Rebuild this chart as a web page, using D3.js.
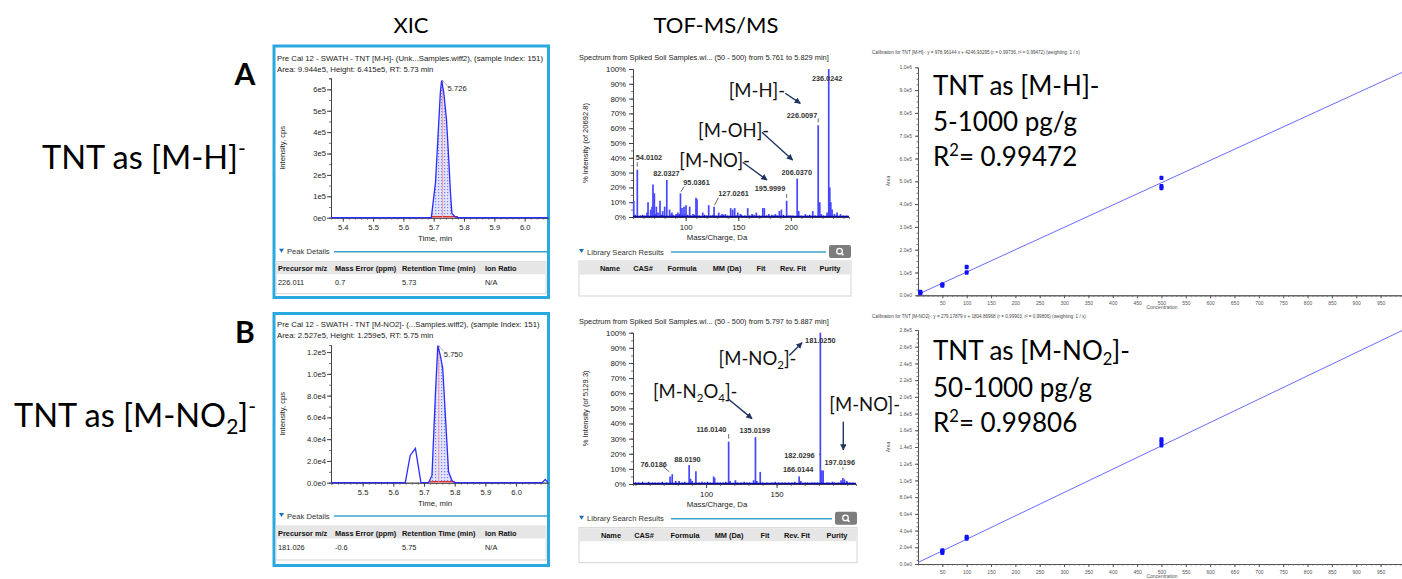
<!DOCTYPE html>
<html><head><meta charset="utf-8">
<script src="https://cdn.jsdelivr.net/npm/d3@7"></script>
<style>body{margin:0;background:#fff;} svg{display:block}</style>
</head><body><svg id="c" width="1402" height="579"></svg>
<script>
// ================= DATA =================
const headerTexts = ['XIC', 'TOF-MS/MS'];
const panelLetters = ['A', 'B'];

// ---- XIC A: TNT [M-H]- ----
const xicA_time = [5.361, 5.692, 5.706, 5.722, 5.726, 5.733, 5.742, 5.750, 5.755, 5.760, 5.770, 5.780, 6.077];
const xicA_int  = [0, 0, 1.68e5, 5.9e5, 6.415e5, 5.85e5, 4.6e5, 2.6e5, 1.2e5, 0.2e5, 0.05e5, 0, 0];
const xicA_yTicks  = [0, 1e5, 2e5, 3e5, 4e5, 5e5, 6e5];
const xicA_yLabels = ['0e0', '1e5', '2e5', '3e5', '4e5', '5e5', '6e5'];
const xicA_xTicks  = [5.4, 5.5, 5.6, 5.7, 5.8, 5.9, 6.0];
const xicA_xLabels = ['5.4', '5.5', '5.6', '5.7', '5.8', '5.9', '6.0'];
const xicA_details = ['226.011', '0.7', '5.73', 'N/A'];

// ---- XIC B: TNT [M-NO2]- ----
const xicB_time = [5.397, 5.639, 5.655, 5.672, 5.690, 5.715, 5.726, 5.737, 5.745, 5.753, 5.761, 5.769, 5.780, 5.791, 5.800, 6.085, 6.095, 6.104];
const xicB_int  = [0, 0, 2.5e4, 3.15e4, 0, 0, 6.7e3, 8.0e4, 1.259e5, 1.17e5, 1.05e5, 6.5e4, 1.0e4, 2e3, 0, 0, 3e3, 0];
const xicB_yTicks  = [0, 2e4, 4e4, 6e4, 8e4, 1e5, 1.2e5];
const xicB_yLabels = ['0.0e0', '2.0e4', '4.0e4', '6.0e4', '8.0e4', '1.0e5', '1.2e5'];
const xicB_xTicks  = [5.5, 5.6, 5.7, 5.8, 5.9, 6.0];
const xicB_xLabels = ['5.5', '5.6', '5.7', '5.8', '5.9', '6.0'];
const xicB_details = ['181.026', '-0.6', '5.75', 'N/A'];

const detailHeaders = ['Precursor m/z', 'Mass Error (ppm)', 'Retention Time (min)', 'Ion Ratio'];
const libraryHeaders = ['Name', 'CAS#', 'Formula', 'MM (Da)', 'Fit', 'Rev. Fit', 'Purity'];

// ---- TOF-MS/MS A ----
const specA_mz  = [50.6, 54.0102, 63.2, 64.2, 66.7, 68.0, 68.9, 70.2, 72.1, 73.7, 75.6, 78.1, 80.0, 82.0327, 84.7, 86.9, 91.0, 92.6, 95.0361, 96.5, 98.4, 100.3, 103.8, 107.0, 109.8, 110.8, 116.2, 121.9, 127.0261, 131.4, 134.6, 137.8, 142.8, 144.7, 146.6, 149.5, 152.0, 159.0, 163.1, 167.2, 173.3, 174.8, 179.0, 185.3, 189.1, 191.0, 195.9999, 206.0370, 207.5, 213.8, 220.8, 226.0097, 227.5, 229.0, 234.4, 236.0242, 237.03, 238.0, 239.2, 241.4, 244.0, 247.2];
const specA_pct = [11, 32, 3, 10, 5, 7, 22, 16, 7, 3, 11, 4, 7, 25, 5, 3, 2, 3, 16, 6, 7, 8, 7, 2, 13, 12, 3, 8, 7, 3, 2, 2, 6, 5, 6, 3, 2, 6, 2, 3, 6, 6, 2, 2, 4, 5, 11, 26, 4, 2, 4, 62, 10, 2, 3, 100, 20, 10, 5, 2, 3, 2];
const specA_noiseMz  = [52, 57, 59, 61, 71, 77, 79, 85, 88, 90, 94, 97, 99, 102, 105, 108, 113, 118, 120, 124, 126, 129, 133, 136, 140, 148, 153, 156, 161, 165, 170, 177, 182, 184, 187, 193, 198, 200, 202, 210, 216, 218, 223, 231, 243, 250, 253];
const specA_noisePct = [1.5, 1, 1.5, 1, 2, 1.5, 1, 2, 1.5, 1, 2, 1.5, 2, 1.5, 1, 1.5, 1, 1.5, 1, 1, 1.5, 1, 1, 1.5, 1, 1, 1.5, 1, 1, 1.5, 1, 1, 1.5, 1, 1, 1.5, 1, 1, 1, 1, 1, 1.5, 1, 1, 1, 1, 1];
const specA_labels   = ['54.0102', '82.0327', '95.0361', '127.0261', '195.9999', '206.0370', '226.0097', '236.0242'];
const specA_labelMz  = [65.1, 81.7, 110.3, 145.5, 180.2, 205.6, 210.6, 234.5];
const specA_labelPct = [40.5, 29.7, 23.6, 16.2, 19.6, 30.4, 68.9, 94.1];
const specA_xTicks = [100, 150, 200];
const specA_ions      = ['[M-H]-', '[M-OH]-', '[M-NO]-'];
const specA_ionMz     = [140.9, 111.7, 93.9];
const specA_ionPct    = [81.3, 54.3, 34.0];
const specA_arrowFrom = [[194.7, 83.6], [172.5, 57.2], [154.2, 37.0]];
const specA_arrowTo   = [[209.0, 76.8], [201.7, 38.5], [177.3, 25.0]];

// ---- TOF-MS/MS B ----
const specB_mz  = [52.2, 59.3, 66.4, 74.5, 76.0186, 78.5, 80.9, 88.0190, 89.0, 90.1, 92.8, 97.0, 105.4, 106.1, 110.0, 116.0140, 117.0, 120.8, 129.0, 133.7, 135.0199, 136.0, 138.4, 146.7, 151.4, 158.5, 166.0144, 167.2, 170.3, 175.0, 181.0250, 182.0296, 183.0, 185.6, 189.6, 193.9, 195.7, 197.0196, 198.1, 199.7, 202.0];
const specB_pct = [1, 1.5, 1, 5, 6.5, 2, 2, 12.5, 3.5, 2, 8.5, 1.5, 5, 4, 1, 28, 2, 2.5, 1, 2.5, 31, 2, 8, 1, 1, 1, 5, 2, 1, 1, 100, 9, 9, 1, 1.5, 1, 2.5, 4, 3, 2, 1];
const specB_noiseMz  = [50, 55, 62, 64, 69, 72, 83, 85, 95, 99, 101, 103, 108, 112, 114, 122, 125, 127, 131, 140, 143, 149, 154, 156, 161, 163, 172, 177, 179, 187, 191, 200, 204];
const specB_noisePct = [1, 1.5, 1, 1, 1.5, 1, 1, 1.5, 1, 1, 1.5, 1, 1, 1, 1.5, 1, 1, 1.5, 1, 1, 1, 1.5, 1, 1, 1, 1.5, 1, 1, 1, 1, 1, 1.5, 1];
const specB_labels   = ['181.0250', '116.0140', '135.0199', '88.0190', '76.0186', '182.0296', '166.0144', '197.0196'];
const specB_labelMz  = [181.0, 103.8, 134.5, 86.8, 62.8, 166.2, 165.3, 194.8];
const specB_labelPct = [95.0, 36.6, 35.5, 16.7, 13.4, 19.0, 10.1, 14.5];
const specB_xTicks = [100, 150];
const specB_ions      = [['[M-NO', '2', ']-'], ['[M-N', '2', 'O', '4', ']-'], ['[M-NO]-']];
const specB_ionMz     = [108.9, 62.3, 187.4];
const specB_ionPct    = [78.4, 56.8, 48.2];
const specB_arrowFrom = [[159.0, 85.0], [116.0, 56.0], [197.3, 41.2]];
const specB_arrowTo   = [[168.0, 93.4], [132.6, 43.2], [197.3, 22.5]];

// ---- Calibration A ----
const calA_conc = [5, 5, 50, 50, 100, 100, 500, 500, 500];
const calA_area = [1.0e4, 1.45e4, 4.3e4, 4.8e4, 1.0e5, 1.24e5, 5.15e5, 4.78e5, 4.70e5];
const calA_slope = 978.96144, calA_intercept = 4246.93295;
const calA_yTicks  = [0, 1e5, 2e5, 3e5, 4e5, 5e5, 6e5, 7e5, 8e5, 9e5, 1e6];
const calA_yLabels = ['0.0e0', '1.0e5', '2.0e5', '3.0e5', '4.0e5', '5.0e5', '6.0e5', '7.0e5', '8.0e5', '9.0e5', '1.0e6'];
const calA_title = 'Calibration for TNT [M-H]-: y = 978.96144 x + 4246.93295 (r = 0.99736, r\u00b2 = 0.99472)  (weighting: 1 / x)';
const calA_text = ['TNT as [M-H]-', '5-1000 pg/g', '0.99472'];

// ---- Calibration B ----
const calB_conc = [50, 50, 50, 100, 100, 500, 500, 500];
const calB_area = [1.35e4, 1.5e4, 1.62e4, 3.05e4, 3.25e4, 1.42e5, 1.46e5, 1.49e5];
const calB_slope = 279.17879, calB_intercept = 1804.86968;
const calB_yTicks  = [0, 2e4, 4e4, 6e4, 8e4, 1e5, 1.2e5, 1.4e5, 1.6e5, 1.8e5, 2e5, 2.2e5, 2.4e5, 2.6e5, 2.8e5];
const calB_yLabels = ['0.0e0', '2.0e4', '4.0e4', '6.0e4', '8.0e4', '1.0e5', '1.2e5', '1.4e5', '1.6e5', '1.8e5', '2.0e5', '2.2e5', '2.4e5', '2.6e5', '2.8e5'];
const calB_title = 'Calibration for TNT [M-NO2]-: y = 279.17879 x + 1804.86968 (r = 0.99903, r\u00b2 = 0.99806)  (weighting: 1 / x)';
const calB_text = ['50-1000 pg/g', '0.99806'];

const cal_xTicks = [50, 100, 150, 200, 250, 300, 350, 400, 450, 500, 550, 600, 650, 700, 750, 800, 850, 900, 950];

// ================= DRAWING =================
const UI = "'Liberation Sans', Arial, sans-serif";
const BIG = "Lato, 'Open Sans', sans-serif";
const svg = d3.select('#c');
svg.append('rect').attr('width', 1402).attr('height', 579).attr('fill', '#fff');

const defs = svg.append('defs');
const pat = defs.append('pattern').attr('id', 'hatch').attr('width', 3).attr('height', 3).attr('patternUnits', 'userSpaceOnUse');
pat.append('rect').attr('width', 3).attr('height', 3).attr('fill', '#e2e4ff');
pat.append('rect').attr('width', 1.2).attr('height', 1.2).attr('fill', '#7c80f2');
const mk = defs.append('marker').attr('id', 'arr').attr('viewBox', '0 0 10 10').attr('refX', 9).attr('refY', 5)
  .attr('markerWidth', 4.5).attr('markerHeight', 4.5).attr('orient', 'auto');
mk.append('path').attr('d', 'M0,0 L10,5 L0,10 Z').attr('fill', '#1f3460');

function T(p, x, y, s, o = {}) {
  const t = p.append('text').attr('x', x).attr('y', y).text(s)
    .attr('font-family', o.ff || UI).attr('font-size', o.fs || 8).attr('fill', o.fill || '#222');
  if (o.anchor) t.attr('text-anchor', o.anchor);
  if (o.fw) t.attr('font-weight', o.fw);
  if (o.rot) t.attr('transform', `rotate(${o.rot},${x},${y})`);
  return t;
}
function styleAxis(g, fs, col) {
  g.selectAll('path.domain').attr('stroke', col || '#555');
  g.selectAll('line').attr('stroke', col || '#555');
  g.selectAll('text').attr('font-family', UI).attr('font-size', fs).attr('fill', '#222');
}

// headers and row labels
T(svg, 411, 33, headerTexts[0], {fs: 22, anchor: 'middle', ff: BIG, fill: '#000'});
T(svg, 716, 33, headerTexts[1], {fs: 22, anchor: 'middle', ff: BIG, fill: '#000'});
T(svg, 245, 85, panelLetters[0], {fs: 30, fw: 'bold', anchor: 'middle', ff: BIG, fill: '#000'});
T(svg, 245, 343, panelLetters[1], {fs: 30, fw: 'bold', anchor: 'middle', ff: BIG, fill: '#000'});
{
  const t = T(svg, 42, 169, 'TNT as [M-H]', {fs: 32.5, ff: BIG, fill: '#000'});
  t.append('tspan').attr('dy', -13).attr('font-size', 21).text('-');
  const t2 = T(svg, 14, 427, 'TNT as [M-NO', {fs: 32.5, ff: BIG, fill: '#000'});
  t2.append('tspan').attr('dy', 7).attr('font-size', 21).text('2');
  t2.append('tspan').attr('dy', -7).text(']');
  t2.append('tspan').attr('dy', -13).attr('font-size', 21).text('-');
}

// ---------- XIC ----------
function drawXIC(c) {
  const g = svg.append('g');
  g.append('rect').attr('x', 274).attr('y', c.by).attr('width', 274.5).attr('height', c.bh)
    .attr('fill', '#fff').attr('stroke', '#29a9df').attr('stroke-width', 3);
  T(g, 277, c.by + c.t1, c.title, {fs: 7.8});
  T(g, 277, c.by + c.t1 + 11, c.sub, {fs: 7.8});
  const x = d3.scaleLinear().domain(c.xDom).range([331, 548]);
  const y = d3.scaleLinear().domain(c.yDom).range([c.y0, c.yTop]);
  const xm = g.append('g').attr('transform', `translate(0,${c.y0})`)
    .call(d3.axisBottom(x).tickValues(d3.range(5.4, 6.1, 0.02).filter(v => v >= c.xDom[0] && v <= c.xDom[1])).tickSize(2).tickFormat(''));
  styleAxis(xm, 7, '#777');
  const ym = g.append('g').attr('transform', `translate(331,0)`)
    .call(d3.axisLeft(y).tickValues(d3.range(0, c.yDom[1], c.yMinor)).tickSize(2).tickFormat(''));
  styleAxis(ym, 7, '#777');
  const xa = g.append('g').attr('transform', `translate(0,${c.y0})`)
    .call(d3.axisBottom(x).tickValues(c.xTicks).tickFormat((d, i) => c.xLabels[i]).tickSize(4).tickSizeOuter(0));
  styleAxis(xa, 7.6, '#444');
  const ya = g.append('g').attr('transform', `translate(331,0)`)
    .call(d3.axisLeft(y).tickValues(c.yTicks).tickFormat((d, i) => c.yLabels[i]).tickSize(4).tickSizeOuter(0));
  styleAxis(ya, 7.6, '#444');
  ya.selectAll('text').attr('x', -5);
  const pts = c.time.map((t, i) => [t, c.inten[i]]);
  const sh = pts.filter(p => p[0] >= c.shade[0] && p[0] <= c.shade[1]);
  g.append('path').datum(sh).attr('fill', 'url(#hatch)')
    .attr('d', d3.area().x(d => x(d[0])).y0(y(0)).y1(d => y(d[1])));
  g.append('line').attr('x1', x(c.shade[0])).attr('x2', x(c.shade[1])).attr('y1', y(0) - 1).attr('y2', y(0) - 1)
    .attr('stroke', '#e03030').attr('stroke-width', 1.5);
  g.append('line').attr('x1', x(c.apexT) + 1).attr('x2', x(c.apexT) + 1).attr('y1', y(c.apexI)).attr('y2', y(0))
    .attr('stroke', '#f3a0a0').attr('stroke-width', 1);
  g.append('path').datum(pts).attr('fill', 'none').attr('stroke', '#2b2bff').attr('stroke-width', 1.3)
    .attr('d', d3.line().x(d => x(d[0])).y(d => y(d[1])));
  g.append('line').attr('x1', x(c.apexT) + 1).attr('y1', y(c.apexI)).attr('x2', x(c.apexT) + 6).attr('y2', y(c.apexI) + 6)
    .attr('stroke', '#555').attr('stroke-width', 0.7).attr('stroke-dasharray', '1.5,1');
  T(g, x(c.apexT) + 6, y(c.apexI) + 11, c.apexLabel, {fs: 7.6});
  T(g, 435, c.y0 + 23, 'Time, min', {fs: 7.8, anchor: 'middle'});
  T(g, 285, (c.y0 + c.yTop) / 2, 'Intensity, cps', {fs: 7.6, anchor: 'middle', rot: -90});
  const pd = c.pdY;
  g.append('path').attr('d', `M279,${pd - 3} l5,0 l-2.5,4 z`).attr('fill', '#1d6fb8');
  T(g, 287, pd + 2.5, 'Peak Details', {fs: 7.6, fill: '#333'});
  g.append('line').attr('x1', 334).attr('x2', 547).attr('y1', pd).attr('y2', pd).attr('stroke', '#3aa3cc').attr('stroke-width', 1.4);
  g.append('rect').attr('x', 276).attr('y', pd + 10).attr('width', 270).attr('height', c.tblH)
    .attr('fill', '#fff').attr('stroke', '#d4d4d4');
  g.append('rect').attr('x', 276.5).attr('y', pd + 10.5).attr('width', 269).attr('height', 12).attr('fill', '#e6e6e6');
  const cx = [278, 335, 402, 485];
  detailHeaders.forEach((h, i) => T(g, cx[i], pd + 19.5, h, {fs: 7.4, fw: 'bold', fill: '#111'}));
  c.details.forEach((h, i) => T(g, cx[i], pd + 33.5, h, {fs: 7.4, fill: '#222'}));
}

drawXIC({by: 46, bh: 251.5, t1: 15, title: 'Pre Cal 12 - SWATH - TNT [M-H]- (Unk...Samples.wiff2), (sample Index: 151)',
  sub: 'Area: 9.944e5, Height: 6.415e5, RT: 5.73 min', xDom: [5.361, 6.077], yDom: [0, 6.53e5], y0: 217.7, yTop: 78,
  xTicks: xicA_xTicks, xLabels: xicA_xLabels, yTicks: xicA_yTicks, yLabels: xicA_yLabels, yMinor: 0.5e5,
  time: xicA_time, inten: xicA_int, shade: [5.692, 5.78], apexT: 5.726, apexI: 6.415e5, apexLabel: '5.726',
  pdY: 251.7, tblH: 32, details: xicA_details});
drawXIC({by: 313.5, bh: 252, t1: 13.5, title: 'Pre Cal 12 - SWATH - TNT [M-NO2]- (...Samples.wiff2), (sample Index: 151)',
  sub: 'Area: 2.527e5, Height: 1.259e5, RT: 5.75 min', xDom: [5.397, 6.104], yDom: [0, 1.265e5], y0: 482.7, yTop: 345,
  xTicks: xicB_xTicks, xLabels: xicB_xLabels, yTicks: xicB_yTicks, yLabels: xicB_yLabels, yMinor: 1e4,
  time: xicB_time, inten: xicB_int, shade: [5.715, 5.80], apexT: 5.745, apexI: 1.259e5, apexLabel: '5.750',
  pdY: 516, tblH: 34, details: xicB_details});

// ---------- Spectra ----------
function drawSpec(c) {
  const g = svg.append('g');
  T(g, 579, c.titleY, c.title, {fs: 7.4});
  const x = d3.scaleLinear().domain(c.xDom).range([633, c.xR]);
  const y = d3.scaleLinear().domain([0, 100]).range([c.y0, c.yTop]);
  const ym = g.append('g').attr('transform', 'translate(633,0)')
    .call(d3.axisLeft(y).tickValues(d3.range(0, 101, 5)).tickSize(2).tickFormat(''));
  styleAxis(ym, 7, '#777');
  const xm = g.append('g').attr('transform', `translate(0,${c.y0})`)
    .call(d3.axisBottom(x).tickValues(d3.range(50, c.xDom[1], 10).filter(v => v >= c.xDom[0])).tickSize(2).tickFormat(''));
  styleAxis(xm, 7, '#777');
  const ya = g.append('g').attr('transform', 'translate(633,0)')
    .call(d3.axisLeft(y).tickValues(d3.range(0, 101, 10)).tickFormat(d => d + '%').tickSize(4).tickSizeOuter(0));
  styleAxis(ya, 7.8, '#444');
  const xa = g.append('g').attr('transform', `translate(0,${c.y0})`)
    .call(d3.axisBottom(x).tickValues(c.xTicks).tickFormat(d => d).tickSize(4).tickSizeOuter(0));
  styleAxis(xa, 7.8, '#444');
  g.selectAll('.nz').data(c.nMz).enter().append('line')
    .attr('x1', d => x(d)).attr('x2', d => x(d)).attr('y1', y(0)).attr('y2', (d, i) => y(c.nPct[i]))
    .attr('stroke', '#1a1ad0').attr('stroke-width', 1.3);
  g.selectAll('.pk').data(c.mz).enter().append('line')
    .attr('x1', d => x(d)).attr('x2', d => x(d)).attr('y1', y(0)).attr('y2', (d, i) => y(c.pct[i]))
    .attr('stroke', '#4646ff').attr('stroke-width', 1.7);
  g.append('line').attr('x1', x(c.xDom[0])).attr('x2', x(c.xDom[1])).attr('y1', y(0) - 0.5).attr('y2', y(0) - 0.5)
    .attr('stroke', '#0a0ab0').attr('stroke-width', 1.6);
  c.labels.forEach((s, i) => T(g, x(c.lMz[i]), y(c.lPct[i]) + 3, s, {fs: 7.3, anchor: 'middle', fill: '#333', fw: 'bold'}));
  c.marks.forEach(m => g.append('line').attr('x1', x(m[0])).attr('y1', y(m[1])).attr('x2', x(m[2])).attr('y2', y(m[3]))
    .attr('stroke', '#444').attr('stroke-width', 0.8));
  T(g, 717, c.y0 + 23, 'Mass/Charge, Da', {fs: 7.8, anchor: 'middle'});
  T(g, 588, (c.y0 + c.yTop) / 2, c.yLabel, {fs: 7.6, anchor: 'middle', rot: -90});
  c.ions.forEach((parts, i) => {
    const t = T(g, x(c.ionMz[i]), y(c.ionPct[i]), '', {fs: 18.5, ff: BIG, fill: '#111'});
    parts.forEach((p, k) => {
      const ts = t.append('tspan').text(p);
      if (parts.length > 1 && k % 2 === 1) ts.attr('font-size', 11.5).attr('dy', 4);
      else if (k > 0) ts.attr('dy', -4);
    });
  });
  c.aFrom.forEach((f, i) => g.append('line').attr('x1', x(f[0])).attr('y1', y(f[1])).attr('x2', x(c.aTo[i][0])).attr('y2', y(c.aTo[i][1]))
    .attr('stroke', '#1f3460').attr('stroke-width', 1.4).attr('marker-end', 'url(#arr)'));
  const ly = c.libY;
  g.append('path').attr('d', `M579,${ly - 3} l5,0 l-2.5,4 z`).attr('fill', '#1d6fb8');
  T(g, 587, ly + 2.5, 'Library Search Results', {fs: 7.6, fill: '#333'});
  g.append('line').attr('x1', 671).attr('x2', c.btnX - 3).attr('y1', ly).attr('y2', ly).attr('stroke', '#3aa3cc').attr('stroke-width', 1.4);
  g.append('rect').attr('x', c.btnX).attr('y', ly - 7).attr('width', 22).attr('height', 13).attr('rx', 2).attr('fill', '#7d7d7d');
  g.append('circle').attr('cx', c.btnX + 10.5).attr('cy', ly - 0.8).attr('r', 2.8).attr('fill', 'none').attr('stroke', '#fff').attr('stroke-width', 1.3);
  g.append('line').attr('x1', c.btnX + 12.5).attr('y1', ly + 1.2).attr('x2', c.btnX + 14.5).attr('y2', ly + 3.2).attr('stroke', '#fff').attr('stroke-width', 1.5);
  g.append('rect').attr('x', 579).attr('y', ly + 9).attr('width', c.tblW).attr('height', 35).attr('fill', '#fff').attr('stroke', '#d4d4d4');
  g.append('rect').attr('x', 579.5).attr('y', ly + 9.5).attr('width', c.tblW - 1).attr('height', 13).attr('fill', '#e6e6e6');
  c.colX.forEach((cx, i) => T(g, cx, ly + 19, libraryHeaders[i], {fs: 7.4, fw: 'bold', anchor: 'middle', fill: '#111'}));
}

drawSpec({titleY: 60, title: 'Spectrum from Spiked Soil Samples.wi... (50 - 500) from 5.761 to 5.829 min]',
  xDom: [49.9, 255.3], xR: 849, y0: 217, yTop: 69, xTicks: specA_xTicks, yLabel: '% Intensity (of 20692.8)',
  mz: specA_mz, pct: specA_pct, nMz: specA_noiseMz, nPct: specA_noisePct,
  labels: specA_labels, lMz: specA_labelMz, lPct: specA_labelPct,
  marks: [[54.0102, 34, 54.0102, 37], [195.9999, 13, 195.9999, 15.5], [226.0097, 64, 226.0097, 66.5],
          [95.5, 17, 98.5, 20.5], [127.5, 8, 131, 13]],
  ions: specA_ions.map(s => [s]), ionMz: specA_ionMz, ionPct: specA_ionPct, aFrom: specA_arrowFrom, aTo: specA_arrowTo,
  libY: 252, btnX: 829, tblW: 272, colX: [610, 643, 682, 727, 761, 793, 830]});

drawSpec({titleY: 324, title: 'Spectrum from Spiked Soil Samples.wi... (50 - 500) from 5.797 to 5.887 min]',
  xDom: [48.2, 206.3], xR: 856, y0: 484, yTop: 332.7, xTicks: specB_xTicks, yLabel: '% Intensity (of 5129.3)',
  mz: specB_mz, pct: specB_pct, nMz: specB_noiseMz, nPct: specB_noisePct,
  labels: specB_labels, lMz: specB_labelMz, lPct: specB_labelPct,
  marks: [[116.014, 30, 116.014, 33], [197.0196, 9.5, 197.0196, 11], [180.3, 20, 180.8, 19], [74, 8, 69, 12]],
  ions: specB_ions, ionMz: specB_ionMz, ionPct: specB_ionPct, aFrom: specB_arrowFrom, aTo: specB_arrowTo,
  libY: 518.7, btnX: 835, tblW: 278, colX: [611, 644, 685, 729, 765, 797, 837]});

// ---------- Calibration ----------
function drawCal(c) {
  const g = svg.append('g');
  const x = d3.scaleLinear().domain([0, 994]).range([918, 1402]);
  const y = d3.scaleLinear().domain(c.yDom).range([c.y0, c.yTop]);
  T(g, 872, c.titleY, c.title, {fs: 4.6, fill: '#444'});
  const xm = g.append('g').attr('transform', `translate(0,${c.y0})`)
    .call(d3.axisBottom(x).tickValues(d3.range(10, 994, 10)).tickSize(1.5).tickFormat(''));
  styleAxis(xm, 5, '#777');
  const ym = g.append('g').attr('transform', 'translate(918,0)')
    .call(d3.axisLeft(y).tickValues(d3.range(0, c.yDom[1], c.yMinor)).tickSize(1.5).tickFormat(''));
  styleAxis(ym, 5, '#777');
  const xa = g.append('g').attr('transform', `translate(0,${c.y0})`)
    .call(d3.axisBottom(x).tickValues(cal_xTicks).tickSize(3).tickSizeOuter(0));
  styleAxis(xa, 5, '#555');
  xa.selectAll('text').attr('fill', '#555');
  const ya = g.append('g').attr('transform', 'translate(918,0)')
    .call(d3.axisLeft(y).tickValues(c.yTicks).tickFormat((d, i) => c.yLabels[i]).tickSize(3).tickSizeOuter(0));
  styleAxis(ya, 5, '#555');
  ya.selectAll('text').attr('fill', '#555');
  T(g, 1162, c.y0 + 14, 'Concentration', {fs: 5, anchor: 'middle', fill: '#555'});
  T(g, 890, c.yMid, 'Area', {fs: 5, anchor: 'middle', fill: '#555', rot: -90});
  g.append('line').attr('x1', x(0)).attr('y1', y(c.b)).attr('x2', x(994)).attr('y2', y(c.m * 994 + c.b))
    .attr('stroke', '#6b6bff').attr('stroke-width', 1);
  g.selectAll('.pt').data(c.conc).enter().append('rect')
    .attr('x', d => x(d) - 2).attr('y', (d, i) => y(c.area[i]) - 2.2).attr('width', 4).attr('height', 4.4)
    .attr('rx', 1).attr('fill', '#1010ff');
  const tx = 933;
  c.lines.forEach((parts, i) => {
    const t = T(g, tx, c.base[i], '', {fs: 26, ff: BIG, fill: '#000'});
    parts.forEach(p => {
      const ts = t.append('tspan').text(p[0]);
      if (p[1] === 'sup') ts.attr('font-size', 16.5).attr('dy', -10);
      else if (p[1] === 'sub') ts.attr('font-size', 16.5).attr('dy', 5);
      else if (p[1] === 'back') ts.attr('dy', p[2]);
    });
  });
}

drawCal({yDom: [0, 1e6], y0: 295.3, yTop: 67.3, yMid: 181, yMinor: 2.5e4, yTicks: calA_yTicks, yLabels: calA_yLabels,
  titleY: 54, title: calA_title, m: calA_slope, b: calA_intercept, conc: calA_conc, area: calA_area,
  base: [95, 131, 166],
  lines: [[[calA_text[0]]], [[calA_text[1]]], [['R'], ['2', 'sup'], ['= ' + calA_text[2], 'back', 10]]]});
drawCal({yDom: [0, 2.8e5], y0: 564, yTop: 330, yMid: 447, yMinor: 5e3, yTicks: calB_yTicks, yLabels: calB_yLabels,
  titleY: 318, title: calB_title, m: calB_slope, b: calB_intercept, conc: calB_conc, area: calB_area,
  base: [360, 397, 432],
  lines: [[['TNT as [M-NO'], ['2', 'sub'], [']-', 'back', -5]], [[calB_text[0]]], [['R'], ['2', 'sup'], ['= ' + calB_text[1], 'back', 10]]]});
</script>
</body></html>
